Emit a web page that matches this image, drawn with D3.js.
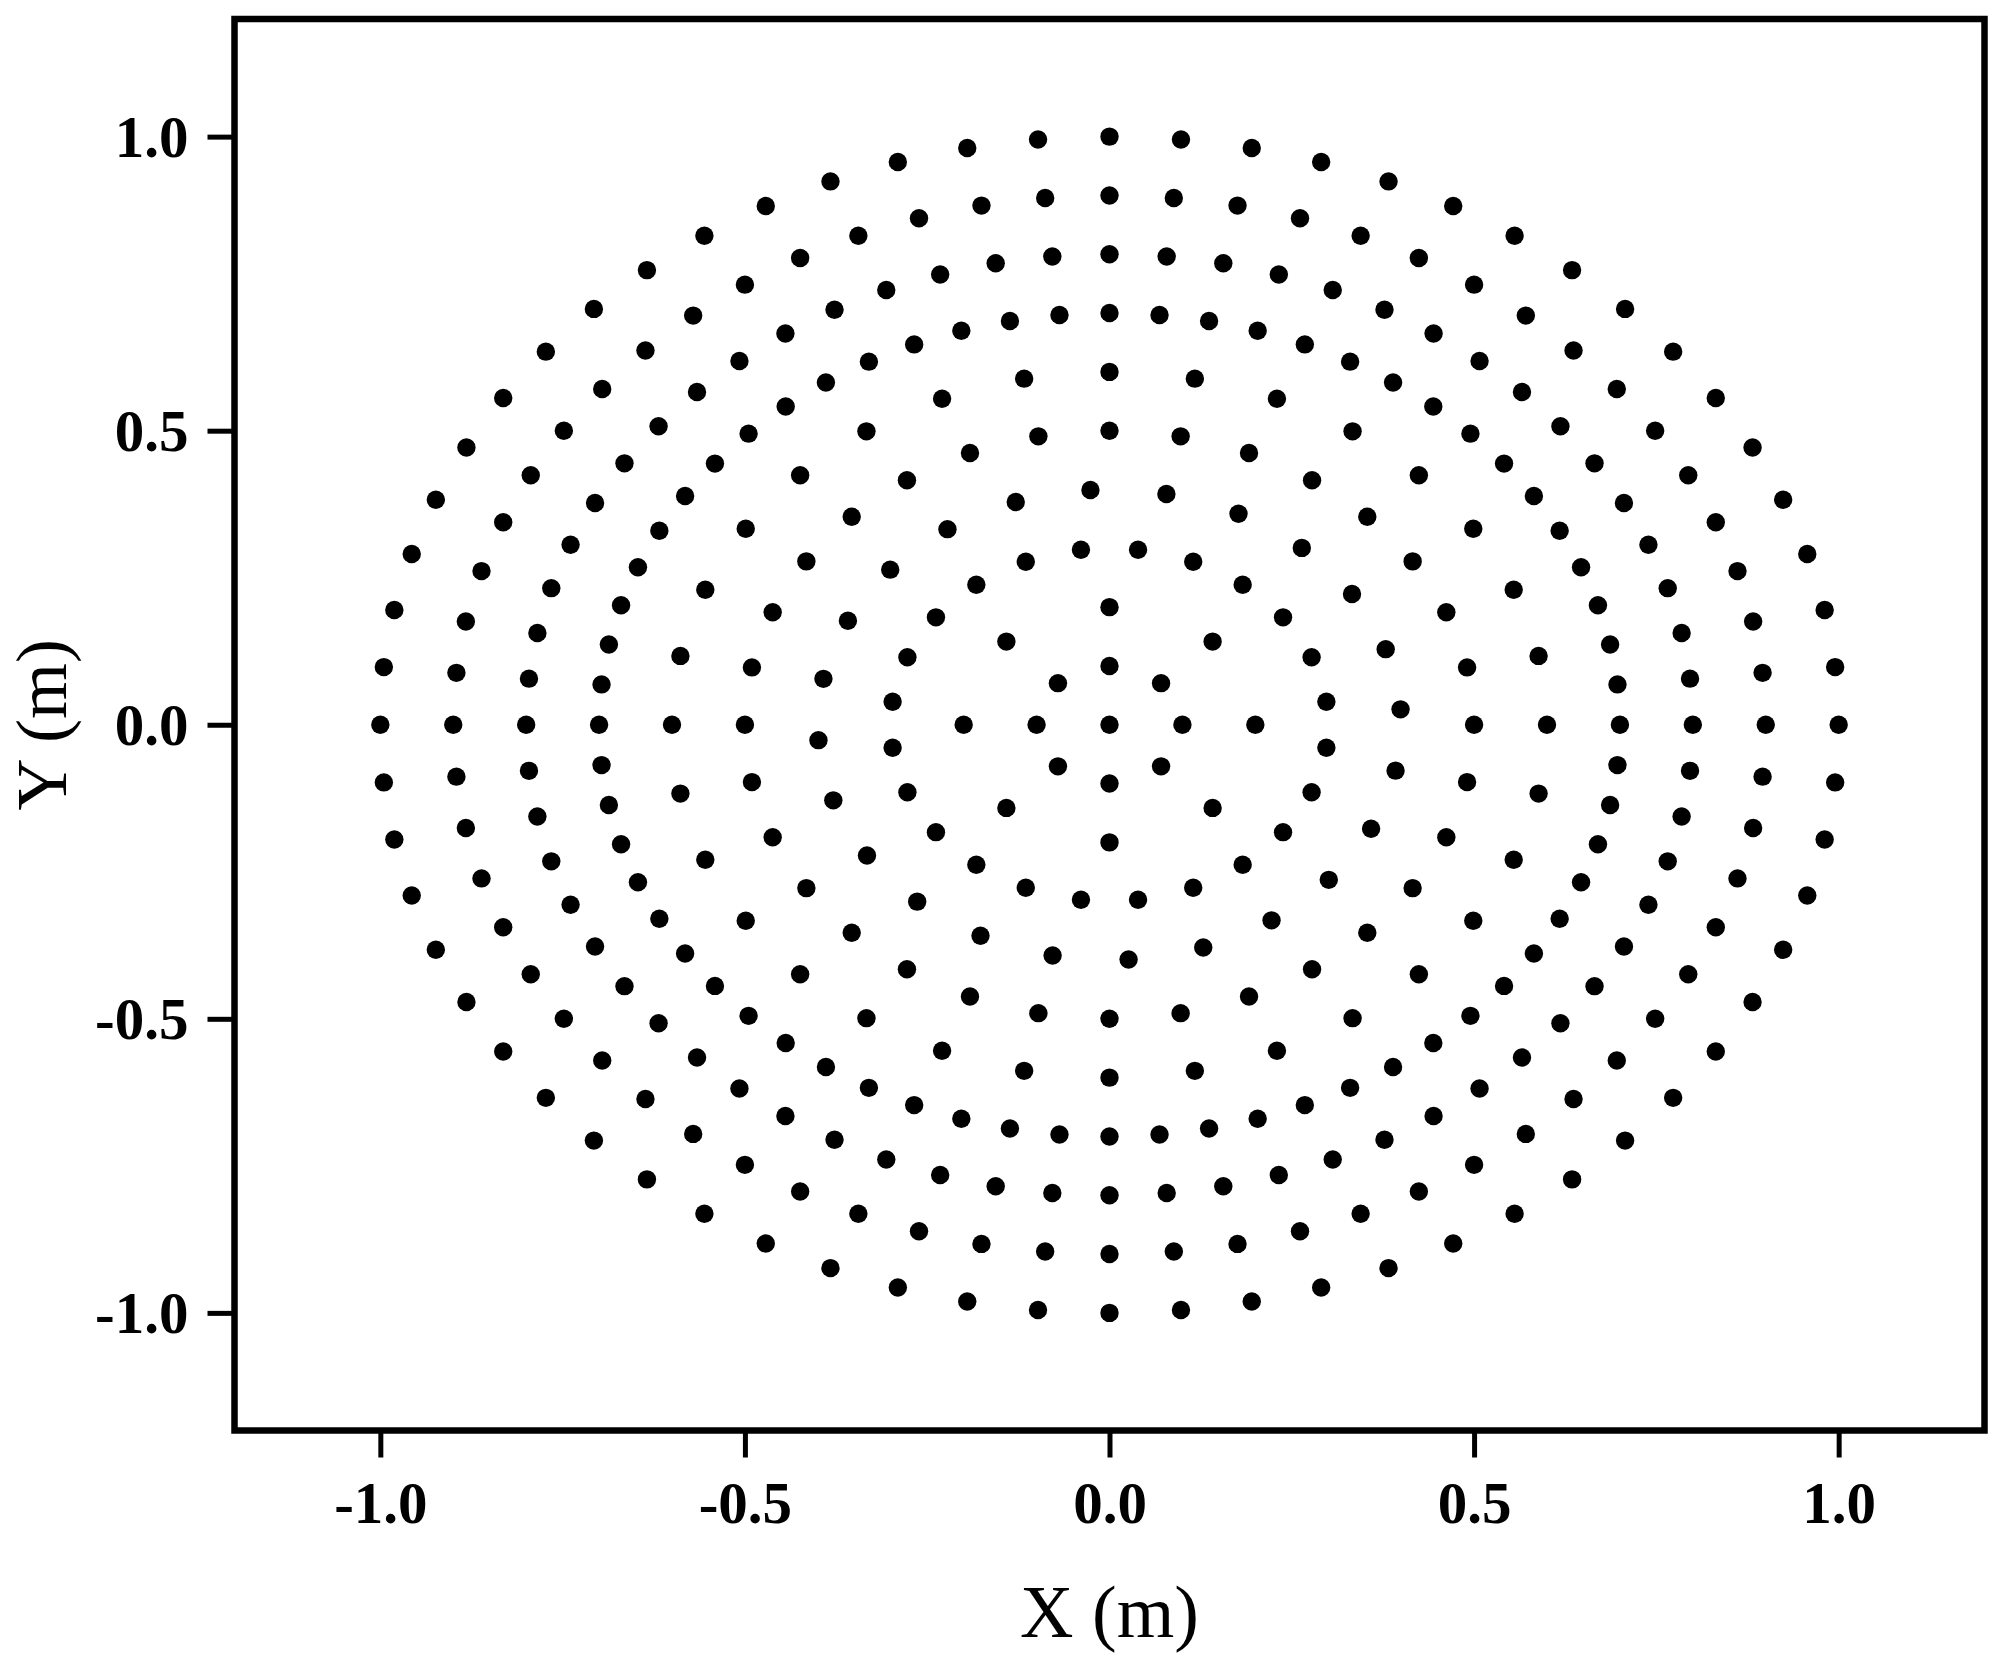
<!DOCTYPE html>
<html>
<head>
<meta charset="utf-8">
<script src="https://cdn.jsdelivr.net/npm/d3@7"></script>
<style>
  html, body { margin: 0; padding: 0; background: #fff; }
  svg { display: block; }
</style>
</head>
<body>
<svg id="chart" width="1998" height="1659"></svg>
<script>
// ---- Data: concentric rings of equally spaced points ----
const ringRadius   = [0.0, 0.1, 0.2, 0.3, 0.4, 0.5, 0.6, 0.7, 0.8, 0.9, 1.0]; // m
const ringCount    = [1,   8,   8,   24,  24,  32,  32,  64,  64,  64,  64];  // points per ring
const ringPhaseDeg = [0,   0,   0,   7.5, 3.75, 0,  0,   0,   0,   0,   0];   // angle of first point

const xTicks = [-1.0, -0.5, 0.0, 0.5, 1.0];
const yTicks = [-1.0, -0.5, 0.0, 0.5, 1.0];
const xTickLabels = ["-1.0", "-0.5", "0.0", "0.5", "1.0"];
const yTickLabels = ["-1.0", "-0.5", "0.0", "0.5", "1.0"];
const xDomain = [-1.2, 1.2];
const yDomain = [-1.2, 1.2];
const xTitle = "X (m)";
const yTitle = "Y (m)";

// Build point table from the ring description
const points = [];
ringRadius.forEach((r, i) => {
  const n = ringCount[i];
  for (let k = 0; k < n; k++) {
    const a = (ringPhaseDeg[i] + k * 360 / n) * Math.PI / 180;
    points.push({ x: r * Math.cos(a), y: r * Math.sin(a) });
  }
});

// ---- Layout ----
const L = 234.5, R = 1984.5, T = 19, B = 1430.5;
const svg = d3.select("#chart");
const x = d3.scaleLinear().domain(xDomain).range([L, R]);
const y = d3.scaleLinear().domain(yDomain).range([B, T]);

const serif = "'Liberation Serif', 'Times New Roman', serif";

// points
svg.append("g")
  .selectAll("circle")
  .data(points)
  .join("circle")
  .attr("cx", d => x(d.x))
  .attr("cy", d => y(d.y))
  .attr("r", 9.2)
  .attr("fill", "#000");

// frame
svg.append("rect")
  .attr("x", L).attr("y", T)
  .attr("width", R - L).attr("height", B - T)
  .attr("fill", "none")
  .attr("stroke", "#000")
  .attr("stroke-width", 6.5);

// x axis
const gx = svg.append("g")
  .attr("transform", `translate(0,${B})`)
  .call(d3.axisBottom(x).tickValues(xTicks)
        .tickFormat((d, i) => xTickLabels[i])
        .tickSize(27).tickSizeOuter(0));
gx.select(".domain").remove();
gx.selectAll(".tick line").attr("stroke", "#000").attr("stroke-width", 5);
gx.selectAll(".tick text")
  .attr("y", 92).attr("dy", 0)
  .attr("fill", "#000")
  .style("font-family", serif)
  .style("font-weight", "bold")
  .style("font-size", "59px");

// y axis
const gy = svg.append("g")
  .attr("transform", `translate(${L},0)`)
  .call(d3.axisLeft(y).tickValues(yTicks)
        .tickFormat((d, i) => yTickLabels[i])
        .tickSize(27).tickSizeOuter(0));
gy.select(".domain").remove();
gy.selectAll(".tick line").attr("stroke", "#000").attr("stroke-width", 5);
gy.selectAll(".tick text")
  .attr("x", -46).attr("dy", "0.34em")
  .attr("fill", "#000")
  .style("font-family", serif)
  .style("font-weight", "bold")
  .style("font-size", "59px");

// titles
svg.append("text")
  .attr("x", (L + R) / 2)
  .attr("y", 1637)
  .attr("text-anchor", "middle")
  .style("font-family", serif)
  .style("font-size", "74px")
  .attr("fill", "#000")
  .text(xTitle);

svg.append("text")
  .attr("transform", `translate(66,${(T + B) / 2}) rotate(-90)`)
  .attr("text-anchor", "middle")
  .style("font-family", serif)
  .style("font-size", "72px")
  .attr("fill", "#000")
  .text(yTitle);
</script>
</body>
</html>
